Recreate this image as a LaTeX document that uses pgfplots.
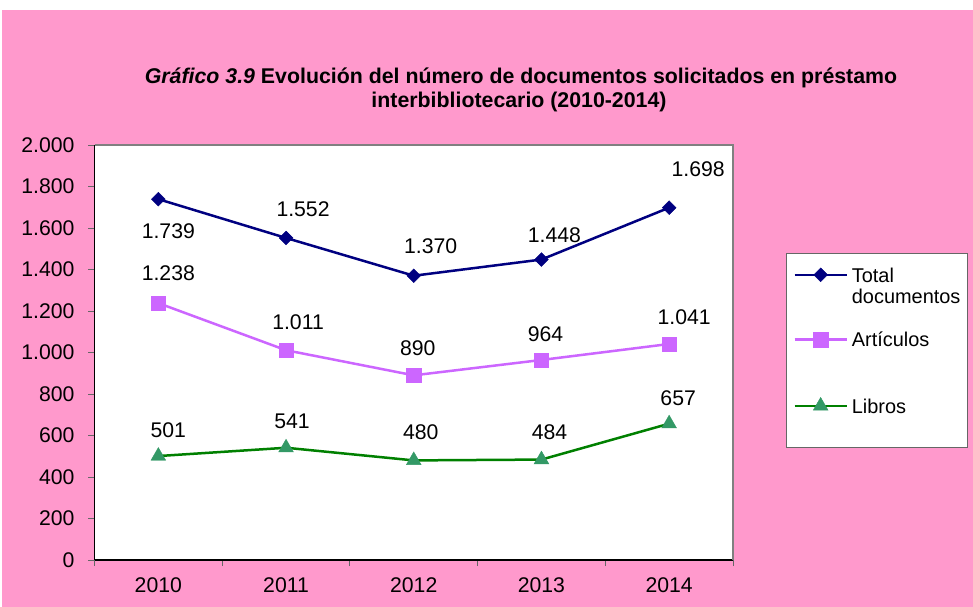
\documentclass[border=0pt]{standalone}
\usepackage{pgfplots}
\pgfplotsset{compat=1.18}
\usepackage{pgfplotstable}
\usepackage{fontspec}
\setmainfont{Liberation Sans}

\definecolor{bgpink}{HTML}{FF99CC}
\definecolor{navyline}{HTML}{000080}
\definecolor{violetline}{HTML}{CC66FF}
\definecolor{greenline}{HTML}{008000}
\definecolor{greenmark}{HTML}{339966}

% x = year index, y = value, dx/dy = label offset (bp)
\pgfplotstableread{
x y dx dy
0 1739 10 -32
1 1552 17 29
2 1370 17 30
3 1448 13 24
4 1698 29 38
}\totaldata
\pgfplotstableread{
x y dx dy
0 1238 10 30
1 1011 12 28
2 890 4 27
3 964 4 26
4 1041 15 27
}\articulosdata
\pgfplotstableread{
x y dx dy
0 501 10 26
1 541 6 26
2 480 7 28
3 484 8 27
4 657 9 25
}\librosdata

\begin{document}
\begin{tikzpicture}
\fill[white] (0,0) rectangle (973bp,-607bp);
\fill[bgpink] (2bp,-10bp) rectangle (973bp,-607bp);
\node[anchor=base, font=\fontsize{21.4}{25}\selectfont\bfseries] at (521bp,-83bp)
  {\textit{Gráfico 3.9} Evolución del número de documentos solicitados en préstamo};
\node[anchor=base, font=\fontsize{21.4}{25}\selectfont\bfseries] at (519bp,-107bp)
  {interbibliotecario (2010-2014)};
\begin{axis}[
  at={(94.5bp,-560bp)}, anchor=south west,
  scale only axis, width=638.5bp, height=415bp,
  xmin=-0.5, xmax=4.5, ymin=0, ymax=2000,
  axis x line*=bottom, axis y line*=left,
  axis line style={-, black, line width=1.2bp},
  axis background/.style={fill=white},
  xtick={0,...,4}, xticklabels={2010,2011,2012,2013,2014},
  minor xtick={-0.5,0.5,...,4.5},
  ytick={0,200,...,2000},
  tick align=outside,
  major tick length=6bp, minor tick length=6bp,
  tick style={black!60, line width=1bp},
  major x tick style={draw=none},
  tick label style={font=\fontsize{21.3}{25}\selectfont},
  yticklabel style={xshift=-10.5bp},
  xticklabel style={yshift=-8.5bp},
  /pgf/number format/1000 sep={.},
  /pgf/number format/assume math mode=true,
  clip=false,
  nodes near coords,
  visualization depends on={\thisrow{dx}\as\lblx},
  visualization depends on={\thisrow{dy}\as\lbly},
  nodes near coords style={anchor=center, xshift=\lblx bp, yshift=\lbly bp,
    font=\fontsize{21.3}{25}\selectfont, text=black, inner sep=0pt},
  legend style={at={(1.083,0.739)}, anchor=north west, draw=black!60, fill=white,
    line width=0.8bp, inner xsep=7bp, inner ysep=14bp, row sep=30.5bp, column sep=4bp,
    cells={anchor=base west},
    nodes={inner sep=0pt, text height=14.3bp, text depth=20bp, font=\fontsize{20}{22}\selectfont}},
  legend image code/.code={\draw[mark repeat=2,mark phase=2]
    plot coordinates {(0bp,7.2bp)(26bp,7.2bp)(52bp,7.2bp)};},
  after end axis/.code={\draw[black!50, line width=1.5bp]
    (rel axis cs:0,1) -- (rel axis cs:1,1) -- (rel axis cs:1,0);},
]
\addplot[navyline, line width=2.5bp, mark=square*, mark size=4.9bp,
  mark options={rotate=45, fill=navyline, draw=navyline, line width=0.4bp, solid}]
  table[x=x, y=y] {\totaldata};
\addlegendentry{\begin{tabular}[t]{@{}l@{}}Total\\documentos\end{tabular}}
\addplot[violetline, line width=2.5bp, mark=square*, mark size=7.2bp,
  mark options={fill=violetline, draw=violetline, line width=0.4bp, solid}]
  table[x=x, y=y] {\articulosdata};
\addlegendentry{Artículos}
\addplot[greenline, line width=2.5bp, mark=triangle*, mark size=8.5bp,
  mark options={fill=greenmark, draw=greenmark, line width=0.4bp, solid}]
  table[x=x, y=y] {\librosdata};
\addlegendentry{Libros}
\end{axis}
\end{tikzpicture}
\end{document}
